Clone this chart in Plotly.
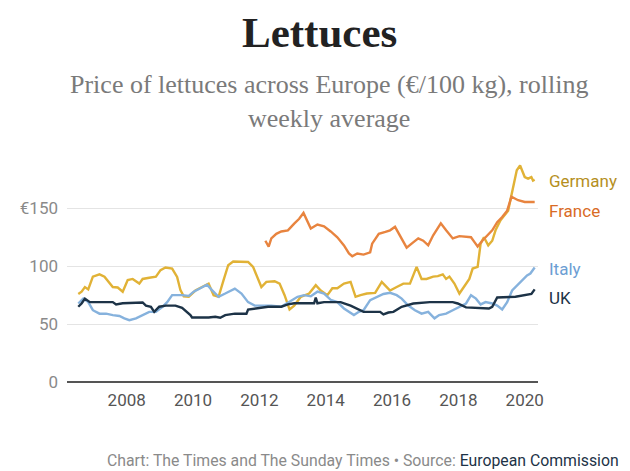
import plotly.graph_objects as go

# ---- data (decimal years, €/100kg) ----
germany_x = [2006.54, 2006.64, 2006.74, 2006.84, 2006.98, 2007.18, 2007.33, 2007.48, 2007.58, 2007.73, 2007.88,
             2008.03, 2008.18, 2008.38, 2008.48, 2008.68, 2008.88, 2009.02, 2009.17, 2009.37, 2009.52, 2009.62,
             2009.72, 2009.87, 2010.07, 2010.27, 2010.47, 2010.62, 2010.77, 2010.92, 2011.06, 2011.21, 2011.46,
             2011.66, 2011.81, 2011.96, 2012.06, 2012.21, 2012.46, 2012.61, 2012.76, 2012.91, 2013.05, 2013.25,
             2013.50, 2013.70, 2013.85, 2014.05, 2014.20, 2014.35, 2014.55, 2014.75, 2014.90, 2015.05, 2015.24,
             2015.49, 2015.69, 2015.84, 2015.94, 2016.14, 2016.34, 2016.54, 2016.74, 2016.89, 2017.04, 2017.24,
             2017.38, 2017.53, 2017.63, 2017.73, 2017.88, 2018.03, 2018.18, 2018.33, 2018.43, 2018.58, 2018.67,
             2018.77, 2018.90, 2019.02, 2019.12, 2019.27, 2019.50, 2019.64, 2019.76, 2019.86, 2020.00, 2020.10,
             2020.20, 2020.25, 2020.30]
germany_y = [76, 78, 82, 80, 91, 93, 91, 85, 82, 81.6, 78,
             88, 89, 85, 89, 90, 91, 96.6, 98.9, 98, 90.8, 79.3,
             74, 73.6, 79, 82, 85, 75, 73.6, 88, 100.9, 104, 104,
             103.7, 99.4, 89, 82, 86.5, 87, 85, 75, 62.6, 66, 73.6,
             76.4, 83.6, 79, 75, 81, 81, 85, 86.5, 73.6, 75, 76.4,
             77, 86.5, 82, 79, 82, 85, 85, 99.4, 89, 89, 91,
             91.4, 93, 89, 91, 85, 76.4, 82.8, 89, 98, 99.4, 119.5,
             125, 118, 122, 131, 139.7, 148, 165.5, 182.8, 187, 177, 175.6,
             177, 174, 174.7]

france_x = [2012.18, 2012.28, 2012.36, 2012.51, 2012.66, 2012.86, 2013.05, 2013.20, 2013.33, 2013.45, 2013.55,
            2013.75, 2013.95, 2014.15, 2014.35, 2014.55, 2014.70, 2014.80, 2014.95, 2015.14, 2015.34, 2015.40,
            2015.60, 2015.80, 2015.94, 2016.09, 2016.24, 2016.44, 2016.59, 2016.79, 2016.94, 2017.09, 2017.24,
            2017.47, 2017.63, 2017.83, 2018.03, 2018.38, 2018.48, 2018.58, 2018.72, 2018.87, 2019.02, 2019.17,
            2019.32, 2019.47, 2019.60, 2019.80, 2020.00, 2020.20, 2020.30]
france_y = [122, 117, 124, 128, 130, 131, 136.8, 141, 146, 138, 132.5,
            136, 134.5, 130, 125, 118, 111, 108.6, 111, 110, 112, 119.5,
            128, 129.6, 131, 134, 126.7, 116, 119.5, 124, 122, 118, 126.7,
            137, 131, 124, 126, 125, 121, 117, 122, 126.7, 131, 138,
            142.5, 148, 160, 157, 155.5, 155.5, 155.5]

italy_x = [2006.54, 2006.69, 2006.84, 2006.98, 2007.18, 2007.38, 2007.58, 2007.78, 2007.93, 2008.08, 2008.28,
           2008.48, 2008.68, 2008.88, 2009.08, 2009.22, 2009.37, 2009.67, 2009.87, 2010.02, 2010.22, 2010.42,
           2010.57, 2010.77, 2010.97, 2011.16, 2011.26, 2011.46, 2011.66, 2011.86, 2012.06, 2012.36, 2012.66,
           2012.96, 2013.15, 2013.35, 2013.55, 2013.75, 2013.95, 2014.15, 2014.35, 2014.55, 2014.70, 2014.85,
           2015.00, 2015.14, 2015.34, 2015.54, 2015.74, 2015.94, 2016.14, 2016.29, 2016.49, 2016.69, 2016.89,
           2017.09, 2017.28, 2017.42, 2017.63, 2017.83, 2018.03, 2018.23, 2018.38, 2018.53, 2018.67, 2018.82,
           2019.02, 2019.17, 2019.32, 2019.47, 2019.62, 2019.77, 2019.92, 2020.07, 2020.17, 2020.27, 2020.30]
italy_y = [67.8, 72, 69, 62, 59, 59, 57.8, 57, 55, 53.4, 55,
           57.8, 60.6, 60.6, 65, 69, 75, 75, 74.4, 78, 80.7, 84,
           79.3, 73.6, 76.4, 79.3, 80.7, 76.4, 69, 66, 66, 66, 65,
           70.7, 73.6, 75, 74, 78, 76.4, 71, 69, 63.5, 60.6, 57.8,
           60.6, 62, 70.7, 73.6, 76, 77, 75, 72, 66, 62, 59,
           60.6, 55, 57.8, 59, 62, 65, 67.8, 75, 72, 67, 69,
           67.8, 66, 62.6, 69, 79, 83.6, 88, 92, 93.7, 98, 98.9]

uk_x = [2006.54, 2006.64, 2006.74, 2006.89, 2007.09, 2007.58, 2007.68, 2007.88, 2008.48, 2008.58, 2008.73,
        2008.83, 2008.98, 2009.18, 2009.47, 2009.67, 2009.92, 2009.97, 2010.47, 2010.67, 2010.82, 2010.97,
        2011.26, 2011.61, 2011.66, 2011.96, 2012.26, 2012.66, 2012.86, 2013.05, 2013.65, 2013.70, 2013.75,
        2013.95, 2014.45, 2014.55, 2014.75, 2015.14, 2015.64, 2015.74, 2015.89, 2016.04, 2016.29, 2016.64,
        2017.14, 2017.83, 2017.98, 2018.23, 2018.92, 2019.02, 2019.17, 2019.72, 2020.00, 2020.20, 2020.30]
uk_y = [65, 67.8, 72, 69, 69, 69, 67, 68, 68.7, 66, 65,
        60.6, 65, 66, 66, 64, 57.8, 55.7, 55.7, 56.3, 55.5, 57.8,
        59, 59, 62.6, 63.5, 65, 65, 67, 68, 68, 73, 68,
        69, 69, 68, 66, 60.6, 60.6, 58.3, 60, 60.6, 65, 67.8,
        69, 69, 67.8, 64.4, 63.5, 65, 73, 73.6, 75, 76, 80]

series_names = ["Germany", "France", "Italy", "UK"]
line_colors = ["#E1B236", "#E8843F", "#86B2DD", "#1D3347"]
label_colors = ["#B58F1E", "#D96B25", "#6C9ED3", "#1D3347"]
label_y = [181, 211, 269, 298]  # pixel positions (in reference) of end labels

y_ticks = [0, 50, 100, 150]
y_tick_text = ["0", "50", "100", "€150"]
x_ticks = [2008, 2010, 2012, 2014, 2016, 2018, 2020]

# ---- figure ----
OFF = 8  # page body margin in the browser
W, H = 630 - OFF, 471 - OFF
plot_left, plot_right, plot_top, plot_bottom = 63 - OFF, 538 - OFF, 161.6 - OFF, 382 - OFF
ymax = 190


def paper_y(py_ref):
    py = py_ref - OFF
    return (plot_bottom - py) / (plot_bottom - plot_top)


def paper_x(px_ref):
    px = px_ref - OFF
    return (px - plot_left) / (plot_right - plot_left)


fig = go.Figure()
all_x = [germany_x, france_x, italy_x, uk_x]
all_y = [germany_y, france_y, italy_y, uk_y]
for name, xs, ys, c in zip(series_names, all_x, all_y, line_colors):
    fig.add_trace(go.Scatter(x=xs, y=ys, mode="lines", name=name,
                             line=dict(color=c, width=2.4), hoverinfo="skip"))

annotations = []
for name, c, py in zip(series_names, label_colors, label_y):
    annotations.append(dict(text=name, x=paper_x(547), y=paper_y(py), xref="paper", yref="paper",
                            xanchor="left", yanchor="middle", showarrow=False,
                            font=dict(family="Roboto", size=17, color=c)))

annotations.append(dict(text="<b>Lettuces</b>", x=paper_x(318), xref="paper", y=paper_y(32), yref="paper",
                        xanchor="center", yanchor="middle", showarrow=False,
                        font=dict(family="Liberation Serif", size=43, color="#222222")))
annotations.append(dict(text="Price of lettuces across Europe (€/100 kg), rolling<br>weekly average",
                        x=paper_x(327), xref="paper", y=paper_y(101), yref="paper",
                        xanchor="center", yanchor="middle", showarrow=False, align="center",
                        font=dict(family="Liberation Serif", size=26, color="#7a7a7a")))
annotations.append(dict(text="Chart: The Times and The Sunday Times • Source: <span style='color:#1D3347'>European Commission</span>",
                        x=paper_x(362), xref="paper", y=paper_y(461), yref="paper",
                        xanchor="center", yanchor="middle", showarrow=False,
                        font=dict(family="Roboto", size=15.8, color="#8a8a8a")))

fig.update_layout(
    width=W, height=H,
    margin=dict(l=plot_left, r=W - plot_right, t=plot_top, b=H - plot_bottom),
    paper_bgcolor="white", plot_bgcolor="white",
    showlegend=False,
    annotations=annotations,
    xaxis=dict(range=[2006.2, 2020.4], tickvals=x_ticks, ticktext=[str(t) for t in x_ticks],
               showgrid=False, zeroline=False, showline=False, ticks="", ticklabelstandoff=6,
               tickfont=dict(family="Roboto", size=17, color="#555555")),
    yaxis=dict(range=[0, ymax], tickvals=y_ticks, ticktext=y_tick_text,
               showgrid=True, gridcolor="#e4e4e4", gridwidth=1,
               zeroline=True, zerolinecolor="#555555", zerolinewidth=1.5,
               ticks="", ticklabelstandoff=8,
               tickfont=dict(family="Roboto", size=17, color="#8a8a8a")),
)

fig.write_html("out.html")
